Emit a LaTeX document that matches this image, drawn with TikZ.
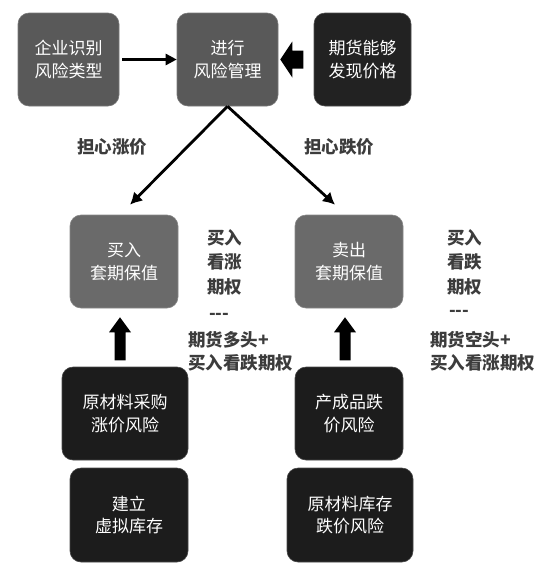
\documentclass[tikz,border=0pt]{standalone}
\usepackage{fontspec}
\newfontfamily\cjk{Noto Sans CJK SC}
\usetikzlibrary{arrows.meta,calc}
\definecolor{boxA}{HTML}{595959}
\definecolor{boxB}{HTML}{222222}
\definecolor{boxC}{HTML}{6A6A6A}
\definecolor{boxD}{HTML}{1C1C1C}
\definecolor{lbl}{HTML}{3C3C3C}
\tikzset{
  rbox/.style={rounded corners=11pt, minimum height=93pt, inner sep=0pt,
    text=white, align=center, font=\cjk\fontsize{17}{22.5}\selectfont, draw=#1!80!white, line width=0.6pt, fill=#1},
  lab/.style={text=lbl, font=\cjk\bfseries\fontsize{17.5}{24}\selectfont, inner sep=0pt, anchor=west},
  thin arrow/.style={line width=2.6pt, -{Triangle[length=11pt,width=11pt]}},
  diag arrow/.style={line width=2.8pt, -{Latex[length=12pt,width=13pt]}},
}
\begin{document}
\begin{tikzpicture}[x=1pt,y=-1pt]
\useasboundingbox (0,0) rectangle (557,571);
% top row
\node[rbox=boxA, minimum width=101pt] (b1) at (68.5,59.5) {企业识别\\风险类型};
\node[rbox=boxA, minimum width=101pt] (b2) at (227.5,59.5) {进行\\风险管理};
\node[rbox=boxB, minimum width=97pt] (b3) at (362.5,59.5) {期货能够\\发现价格};
% middle
\node[rbox=boxC, minimum width=108pt] (b4) at (124,261.5) {买入\\套期保值};
\node[rbox=boxC, minimum width=108pt] (b5) at (349,261.5) {卖出\\套期保值};
% lower
\node[rbox=boxD, minimum width=126pt] (b6) at (125,413.5) {原材料采购\\涨价风险};
\node[rbox=boxD, minimum width=108pt] (b7) at (349,413.5) {产成品跌\\价风险};
\node[rbox=boxD, minimum width=118pt, minimum height=94pt] (b8) at (129,515) {建立\\虚拟库存};
\node[rbox=boxD, minimum width=126pt, minimum height=94pt] (b9) at (350,515) {原材料库存\\跌价风险};
% arrows
\draw[thin arrow] ($(b1.east)+(3,0)$) -- (b2.west);
\fill ($(b2.east)+(2,0)$) -- ++(12,-18) -- ++(0,9) -- ++(11,0) -- ++(0,18) -- ++(-11,0) -- ++(0,9) -- cycle;
\draw[diag arrow] (b2.south) -- ($(b4.north)+(6,-10)$);
\draw[diag arrow] (b2.south) -- ($(b5.north)+(-14,-10)$);
\fill ($(b4.south)+(-4,9)$) -- ++(11,15) -- ++(-5.5,0) -- ++(0,28) -- ++(-11,0) -- ++(0,-28) -- ++(-5.5,0) -- cycle;
\fill ($(b5.south)+(-4,9)$) -- ++(11,15) -- ++(-5.5,0) -- ++(0,28) -- ++(-11,0) -- ++(0,-28) -- ++(-5.5,0) -- cycle;
% labels
\node[lab] (l1) at (77,147) {担心涨价};
\node[lab] (l2) at (304,147) {担心跌价};
\node[lab] (l3) at (207,238) {买入};
\node[lab] (l4) at (207,262) {看涨};
\node[lab] (l5) at (207,287) {期权};
\node[lab] (l6) at (209,316) {---};
\node[lab] (l7) at (188,340) {期货多头+};
\node[lab] (l8) at (188,363) {买入看跌期权};
\node[lab] (r3) at (447,238) {买入};
\node[lab] (r4) at (447,262) {看跌};
\node[lab] (r5) at (447,287) {期权};
\node[lab] (r6) at (449,313) {---};
\node[lab] (r7) at (430,340) {期货空头+};
\node[lab] (r8) at (430,363) {买入看涨期权};
\end{tikzpicture}
\end{document}
